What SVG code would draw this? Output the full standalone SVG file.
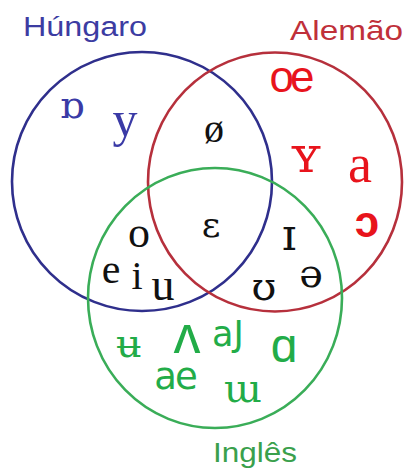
<svg xmlns="http://www.w3.org/2000/svg" width="404" height="468" viewBox="0 0 404 468">
<style>
.ring{fill:none;stroke-width:2.6}
.lbl{font-family:"Liberation Sans",Arial,sans-serif}
.ser{font-family:"Liberation Serif","DejaVu Serif",serif;text-anchor:middle}
.ipa{font-family:"DejaVu Serif","Liberation Serif",serif;text-anchor:middle}
.sans{font-family:"Liberation Sans","DejaVu Sans",sans-serif;text-anchor:middle}
.dv{font-family:"DejaVu Sans","Liberation Sans",sans-serif;text-anchor:middle}
.b{fill:#3a3aa6}
.r{fill:#e8141c}
.g{fill:#22ac48}
.k{fill:#111}
</style>
<rect width="404" height="468" fill="#fff"/>
<g id="connectors">
<ellipse id="circle-hungaro" class="ring" cx="142" cy="181.5" rx="130" ry="129.5" stroke="#2f2f8c"/>
<ellipse id="circle-alemao" class="ring" cx="275" cy="182" rx="127" ry="129.5" stroke="#b6303c"/>
<ellipse id="circle-ingles" class="ring" cx="215" cy="298" rx="127" ry="130" stroke="#3aad58"/>
</g>
<g id="hungaro">
<text class="lbl" x="23" y="36" font-size="27" fill="#3c3ca2" textLength="124" lengthAdjust="spacingAndGlyphs">Húngaro</text>
<text class="ipa b" x="72" y="118" font-size="38">ɒ</text>
<text class="ser b" x="125" y="136" font-size="50">y</text>
</g>
<g id="alemao">
<text class="lbl" x="290" y="40" font-size="28" fill="#c0303a" textLength="113" lengthAdjust="spacingAndGlyphs">Alemão</text>
<text class="sans r" x="290" y="92" font-size="44" letter-spacing="-4">oe</text>
<text class="ipa r" x="306" y="172" font-size="50">ʏ</text>
<text class="ser r" x="360" y="182" font-size="54">a</text>
<text class="sans r" x="367" y="237" font-size="44" font-weight="bold">ɔ</text>
</g>
<g id="ingles">
<text class="lbl" x="213" y="462" font-size="28" fill="#3aa04c" textLength="84" lengthAdjust="spacingAndGlyphs">Inglês</text>
<text class="ipa g" x="129" y="357" font-size="40">ʉ</text>
<text class="sans g" x="187" y="353" font-size="54">ʌ</text>
<text class="dv g" x="228" y="346" font-size="35">aJ</text>
<text class="sans g" x="284" y="362" font-size="48">ɑ</text>
<text class="dv g" x="175" y="389" font-size="37" letter-spacing="-2">ae</text>
<text class="ipa g" x="243" y="402" font-size="40">ɯ</text>
</g>
<g id="hungaro-alemao">
<text class="ser k" x="214" y="142" font-size="40">ø</text>
</g>
<g id="todos">
<text class="ipa k" x="211" y="237" font-size="36">ɛ</text>
</g>
<g id="hungaro-ingles">
<text class="ser k" x="139" y="247" font-size="44">o</text>
<text class="ser k" x="111" y="283" font-size="42">e</text>
<text class="ser k" x="137" y="289" font-size="40">i</text>
<text class="ser k" x="163" y="300" font-size="46">u</text>
</g>
<g id="alemao-ingles">
<text class="ipa k" x="289" y="250" font-size="44">ɪ</text>
<text class="ipa k" x="264" y="300" font-size="40">ʊ</text>
<text class="ipa k" x="311" y="287" font-size="40">ə</text>
</g>
</svg>
